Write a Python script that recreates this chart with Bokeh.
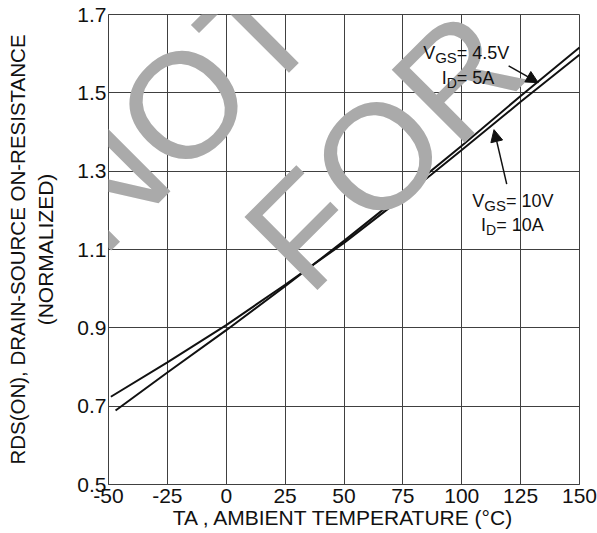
from math import pi
from bokeh.plotting import figure
from bokeh.models import Label, Arrow, NormalHead, FixedTicker, Range1d, Title
from bokeh.embed import file_html
from bokeh.resources import INLINE

# ---------------- data ----------------
temp_45v = [-47, -25, 0, 25, 50, 75, 100, 125, 150]
rds_45v = [0.689, 0.786, 0.894, 1.006, 1.122, 1.242, 1.365, 1.492, 1.616]
temp_10v = [-49, -25, 0, 25, 50, 75, 100, 125, 150]
rds_10v = [0.724, 0.812, 0.907, 1.010, 1.117, 1.233, 1.354, 1.477, 1.597]
x_ticks = [-50, -25, 0, 25, 50, 75, 100, 125, 150]
y_ticks = [0.5, 0.7, 0.9, 1.1, 1.3, 1.5, 1.7]

FONT = "Liberation Sans"
INK = "#111111"
GRID = "#404040"

AW = {' ': 278, ',': 278, '-': 333, '.': 278, '(': 333, ')': 333, '=': 584, '°': 400,
      '0': 556, '1': 556, '2': 556, '3': 556, '4': 556, '5': 556, '6': 556, '7': 556,
      '8': 556, '9': 556, 'A': 667, 'B': 667, 'C': 722, 'D': 722, 'E': 667, 'G': 778,
      'I': 278, 'L': 556, 'M': 833, 'N': 722, 'O': 778, 'P': 667, 'R': 722, 'S': 667,
      'T': 611, 'U': 722, 'V': 667, 'Z': 611}


def tw(s, size):
    return sum(AW.get(c, 600) for c in s) / 1000.0 * size


def rich(x, y, parts, color=INK):
    out = []
    adv = 0.0
    for text, size, drop in parts:
        out.append(Label(x=x, y=y, x_offset=adv, y_offset=-drop, text=text,
                         text_font=FONT, text_font_size=f"{size}px", text_color=color,
                         text_baseline="alphabetic", text_align="left"))
        adv += tw(text, size)
    return out


W, H = 597, 533
p = figure(width=W, height=H, x_range=Range1d(-50, 150), y_range=Range1d(0.5, 1.7),
           output_backend="svg", toolbar_location=None,
           min_border_left=108, min_border_right=18, min_border_top=14, min_border_bottom=49)
p.background_fill_color = "white"
p.border_fill_color = "white"
p.outline_line_color = GRID
p.outline_line_width = 1

p.xaxis.ticker = FixedTicker(ticks=x_ticks)
p.yaxis.ticker = FixedTicker(ticks=y_ticks)
p.xgrid.ticker = FixedTicker(ticks=x_ticks)
p.ygrid.ticker = FixedTicker(ticks=y_ticks)
p.xaxis.major_label_overrides = {t: str(t) for t in x_ticks}
p.grid.grid_line_color = GRID
p.grid.grid_line_width = 1
p.grid.grid_line_alpha = 1.0
for ax in (p.xaxis, p.yaxis):
    ax.axis_line_color = GRID
    ax.axis_line_width = 1
    ax.major_tick_line_color = None
    ax.minor_tick_line_color = None
    ax.major_tick_out = 0
    ax.major_tick_in = 0
    ax.major_label_text_font = FONT
    ax.major_label_text_font_size = "21px"
    ax.major_label_text_color = INK
    ax.axis_label_text_font = FONT
    ax.axis_label_text_font_size = "21px"
    ax.axis_label_text_font_style = "normal"
    ax.axis_label_text_color = INK
p.xaxis.major_label_standoff = 4
p.yaxis.major_label_standoff = 2

# axis titles
p.xaxis.axis_label = "TA , AMBIENT TEMPERATURE (°C)"
p.xaxis.axis_label_standoff = 0
p.yaxis.axis_label = "(NORMALIZED)"
p.yaxis.axis_label_standoff = 17
p.add_layout(Title(text="RDS(ON), DRAIN-SOURCE ON-RESISTANCE", align="center",
                   text_font=FONT, text_font_size="20.5px", text_font_style="normal",
                   text_color=INK, standoff=6), "left")

# watermark (drawn first so that the curves and texts sit on top of it)
wm_style = dict(angle=pi / 4, text_font=FONT, text_font_size="150px", text_color="#aaaaaa",
                text_baseline="alphabetic", text_align="left")
p.add_layout(Label(x=-68.2, y=1.169, text="NOT", **wm_style))
p.add_layout(Label(x=19.4, y=1.068, text="FOR", **wm_style))

l1 = p.line(temp_45v, rds_45v, line_color=INK, line_width=2)
l2 = p.line(temp_10v, rds_10v, line_color=INK, line_width=2)
l1.level = "annotation"
l2.level = "annotation"

extra = []
extra += rich(83.6, 1.602, [("V", 18, 0), ("GS", 15, 5), ("= 4.5V", 18, 0)])
extra += rich(91.5, 1.539, [("I", 18, 0), ("D", 14, 5), (" = 5A", 18, 0)])
extra += rich(104.5, 1.225, [("V", 18, 0), ("GS", 15, 5), ("= 10V", 18, 0)])
extra += rich(108.2, 1.162, [("I", 18, 0), ("D", 14, 5), (" = 10A", 18, 0)])

extra.append(Arrow(x_start=119.9, y_start=1.569, x_end=132.5, y_end=1.526,
                   line_color=INK, line_width=1.5,
                   end=NormalHead(size=12, fill_color=INK, line_color=INK, line_width=1)))
extra.append(Arrow(x_start=119.1, y_start=1.267, x_end=113.7, y_end=1.406,
                   line_color=INK, line_width=1.5,
                   end=NormalHead(size=12, fill_color=INK, line_color=INK, line_width=1)))

for r in extra:
    p.add_layout(r)

open("out.html", "w").write(file_html(p, INLINE))
